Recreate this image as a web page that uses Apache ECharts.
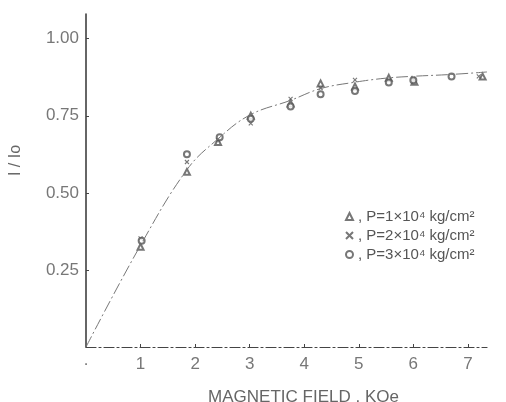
<!DOCTYPE html>
<html><head><meta charset="utf-8">
<script src="https://cdn.jsdelivr.net/npm/echarts@6/dist/echarts.min.js"></script>
<style>html,body{margin:0;padding:0;background:#fff}#c{width:506px;height:402px}</style>
</head><body><div id="c"></div>
<script>
// Data
const xTicks = [0, 1, 2, 3, 4, 5, 6, 7];
const yTicks = [0.25, 0.5, 0.75, 1.0];

const triField = [1.0, 1.85, 2.42, 3.02, 3.75, 4.3, 4.93, 5.55, 6.02, 7.27];
const triRatio = [0.325, 0.568, 0.665, 0.75, 0.79, 0.855, 0.845, 0.873, 0.86, 0.877];

const crossField = [1.0, 1.85, 2.42, 3.02, 3.75, 4.3, 4.93, 5.55, 6.0, 7.2];
const crossRatio = [0.352, 0.6, 0.672, 0.725, 0.805, 0.84, 0.866, 0.865, 0.87, 0.878];

const circField = [1.02, 1.85, 2.45, 3.02, 3.75, 4.3, 4.93, 5.55, 6.0, 6.7];
const circRatio = [0.345, 0.625, 0.68, 0.74, 0.78, 0.82, 0.83, 0.858, 0.865, 0.877];

const curveField = [0, 1, 1.85, 2.4, 3, 3.75, 4.3, 4.9, 5.5, 6, 6.7, 7.35];
const curveRatio = [0, 0.33, 0.575, 0.672, 0.752, 0.8, 0.838, 0.858, 0.872, 0.878, 0.884, 0.892];

const seriesNames = ['P=1×10⁴ kg/cm²', 'P=2×10⁴ kg/cm²', 'P=3×10⁴ kg/cm²'];

const zip = (a, b) => a.map((v, i) => [v, b[i]]);
const font = 'Liberation Sans';

const chart = echarts.init(document.getElementById('c'));
chart.setOption({
  backgroundColor: '#fff',
  animation: false,
  grid: { left: 86, right: 19, top: 14, bottom: 55, containLabel: false, outerBoundsMode: 'none' },
  xAxis: {
    type: 'value', min: 0, max: 7.35,
    name: 'MAGNETIC FIELD . KOe', nameLocation: 'middle', nameGap: 42,
    nameTextStyle: { color: '#666', fontSize: 17, fontFamily: font, padding: [0, 0, 0, 34] },
    axisLine: { lineStyle: { color: '#444', width: 1.2, type: [10, 3, 2, 3] } },
    axisTick: { inside: true, length: 3, lineStyle: { color: '#444' }, customValues: xTicks.slice(1) },
    axisLabel: { color: '#777', fontSize: 17, fontFamily: font, margin: 9,
      customValues: xTicks, formatter: v => v === 0 ? '·' : String(v) },
    splitLine: { show: false }
  },
  yAxis: {
    type: 'value', min: 0, max: 1.08,
    name: 'I / Io', nameLocation: 'middle', nameGap: 62, nameRotate: 90,
    nameTextStyle: { color: '#666', fontSize: 16, fontFamily: font, padding: [0, 0, 0, 40] },
    axisLine: { lineStyle: { color: '#333', width: 1.5 } },
    axisTick: { inside: true, length: 3, lineStyle: { color: '#444' }, customValues: yTicks },
    axisLabel: { color: '#777', fontSize: 17, fontFamily: font, margin: 7,
      customValues: yTicks, formatter: v => v.toFixed(2) },
    splitLine: { show: false }
  },
  legend: {
    orient: 'vertical', left: 340, top: 204, itemGap: 4, itemWidth: 7, itemHeight: 7,
    data: seriesNames,
    formatter: n => ', ' + n,
    textStyle: { color: '#555', fontSize: 15, fontFamily: font }
  },
  series: [
    { type: 'line', name: 'curve', data: zip(curveField, curveRatio), smooth: 0.4,
      showSymbol: false, silent: true,
      lineStyle: { color: '#777', width: 1, type: [12, 3, 2, 3] } },
    { type: 'scatter', name: seriesNames[0], data: zip(triField, triRatio),
      symbol: 'emptyTriangle', symbolSize: 6,
      itemStyle: { color: '#555', borderColor: '#555', borderWidth: 1 } },
    { type: 'scatter', name: seriesNames[1], data: zip(crossField, crossRatio),
      symbol: 'path://M0,0L10,10M10,0L0,10', symbolSize: 4,
      itemStyle: { color: 'rgba(0,0,0,0)', borderColor: '#555', borderWidth: 1.1 } },
    { type: 'scatter', name: seriesNames[2], data: zip(circField, circRatio),
      symbol: 'emptyCircle', symbolSize: 6,
      itemStyle: { color: '#555', borderColor: '#555', borderWidth: 1 } }
  ]
});
</script>
</body></html>
